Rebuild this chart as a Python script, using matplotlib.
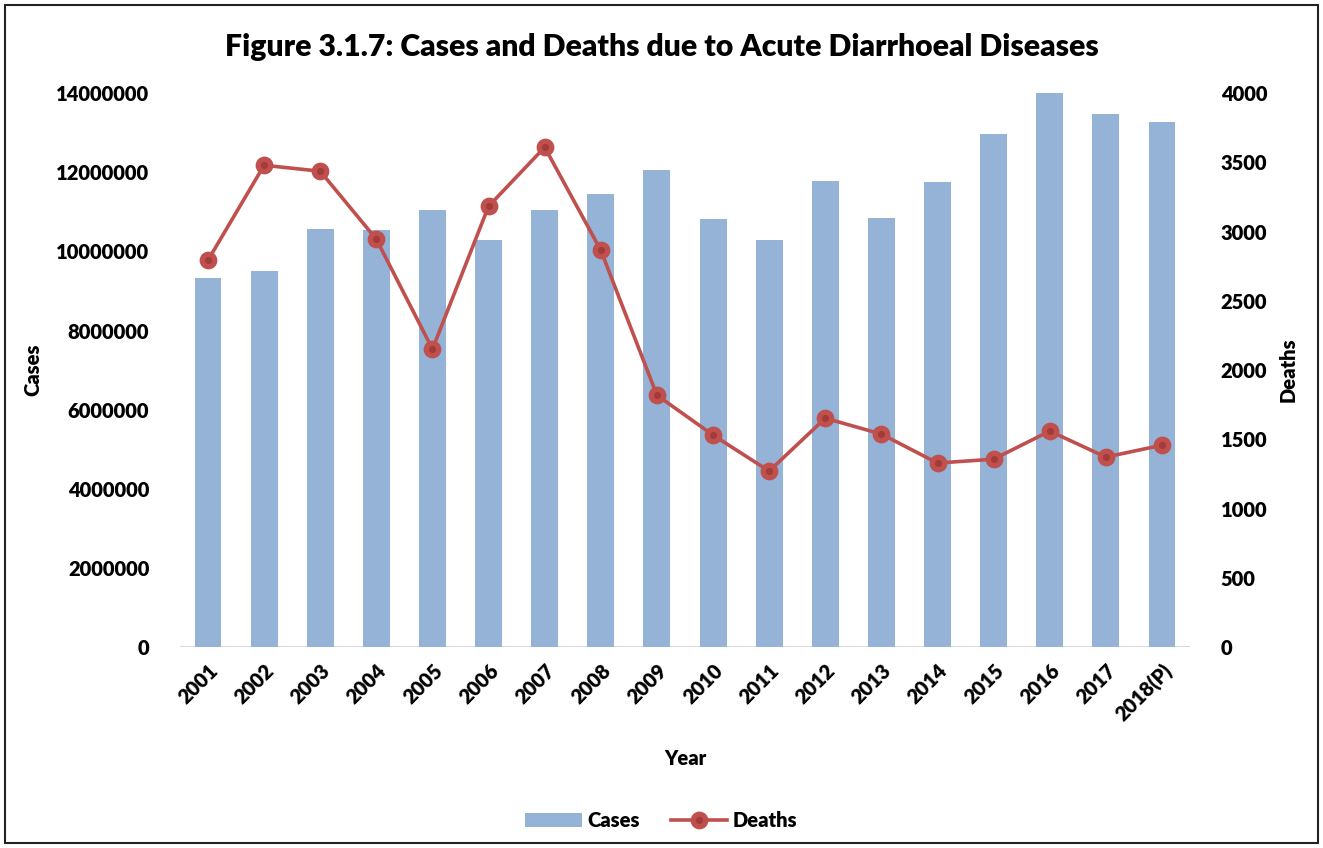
import matplotlib
matplotlib.use("Agg")
import matplotlib.pyplot as plt
from matplotlib.patches import Rectangle
import numpy as np

years = ["2001", "2002", "2003", "2004", "2005", "2006", "2007", "2008", "2009",
         "2010", "2011", "2012", "2013", "2014", "2015", "2016", "2017", "2018(P)"]
cases = [9330000, 9500000, 10560000, 10540000, 11040000, 10290000, 11040000, 11450000, 12050000,
         10820000, 10290000, 11780000, 10840000, 11750000, 12960000, 14000000, 13470000, 13270000]
deaths = [2794, 3480, 3437, 2946, 2152, 3184, 3610, 2866, 1819,
          1531, 1271, 1653, 1538, 1329, 1357, 1560, 1372, 1458]

case_ticks = [0, 2000000, 4000000, 6000000, 8000000, 10000000, 12000000, 14000000]
death_ticks = [0, 500, 1000, 1500, 2000, 2500, 3000, 3500, 4000]

plt.rcParams['font.family'] = ['Lato', 'DejaVu Sans']
W = 'heavy'
plt.rcParams['font.weight'] = W

bar_col = "#95B3D7"
line_col = "#C0504D"
dot_col = "#A33B39"

fig = plt.figure(figsize=(13.23, 8.48), dpi=100)
fig.patches.append(Rectangle((0.004, 0.006), 0.992, 0.988, transform=fig.transFigure,
                             fill=False, edgecolor="#222222", linewidth=1.5))

ax = fig.add_axes([0.136, 0.237, 0.7635, 0.653])
x = np.arange(len(years))
bars = ax.bar(x, cases, width=0.48, color=bar_col, label="Cases", zorder=2)
ax.axhline(0, color="#d9d9d9", linewidth=1.5, zorder=1)
ax.set_xlim(-0.5, len(years) - 0.5)
ax.set_ylim(0, 14000000)
ax.set_yticks(case_ticks)
ax.set_yticklabels([str(v) for v in case_ticks], fontsize=14.5, fontweight=W)
ax.set_xticks(x)
ax.set_xticklabels(years, rotation=45, ha='right', rotation_mode='anchor',
                   fontsize=14.5, fontweight=W)
ax.tick_params(axis='both', length=0)
ax.tick_params(axis='y', pad=22)
ax.tick_params(axis='x', pad=10)
for s in ax.spines.values():
    s.set_visible(False)
ax.set_ylabel("Cases", fontsize=14.5, fontweight=W, labelpad=10)
ax.set_xlabel("Year", fontsize=14.5, fontweight=W, labelpad=17)

ax2 = ax.twinx()
line, = ax2.plot(x, deaths, color=line_col, linewidth=2.6, marker='o', markersize=9,
                 markerfacecolor=dot_col, markeredgecolor=line_col, markeredgewidth=3.8,
                 label="Deaths", zorder=3)
ax2.set_ylim(0, 4000)
ax2.set_yticks(death_ticks)
ax2.set_yticklabels([str(v) for v in death_ticks], fontsize=14.5, fontweight=W)
ax2.tick_params(axis='y', length=0, pad=22)
for s in ax2.spines.values():
    s.set_visible(False)
ax2.set_ylabel("Deaths", fontsize=14.5, fontweight=W, labelpad=8)

fig.text(0.5, 0.945, "Figure 3.1.7: Cases and Deaths due to Acute Diarrhoeal Diseases",
         ha='center', va='center', fontsize=21.7, fontweight=W)

fig.legend([bars, line], ["Cases", "Deaths"], loc='center', bbox_to_anchor=(0.5, 0.032),
           ncol=2, frameon=False, fontsize=14.5, handlelength=2.8, columnspacing=1.5,
           handletextpad=0.3)

fig.savefig("out.png", dpi=100)
